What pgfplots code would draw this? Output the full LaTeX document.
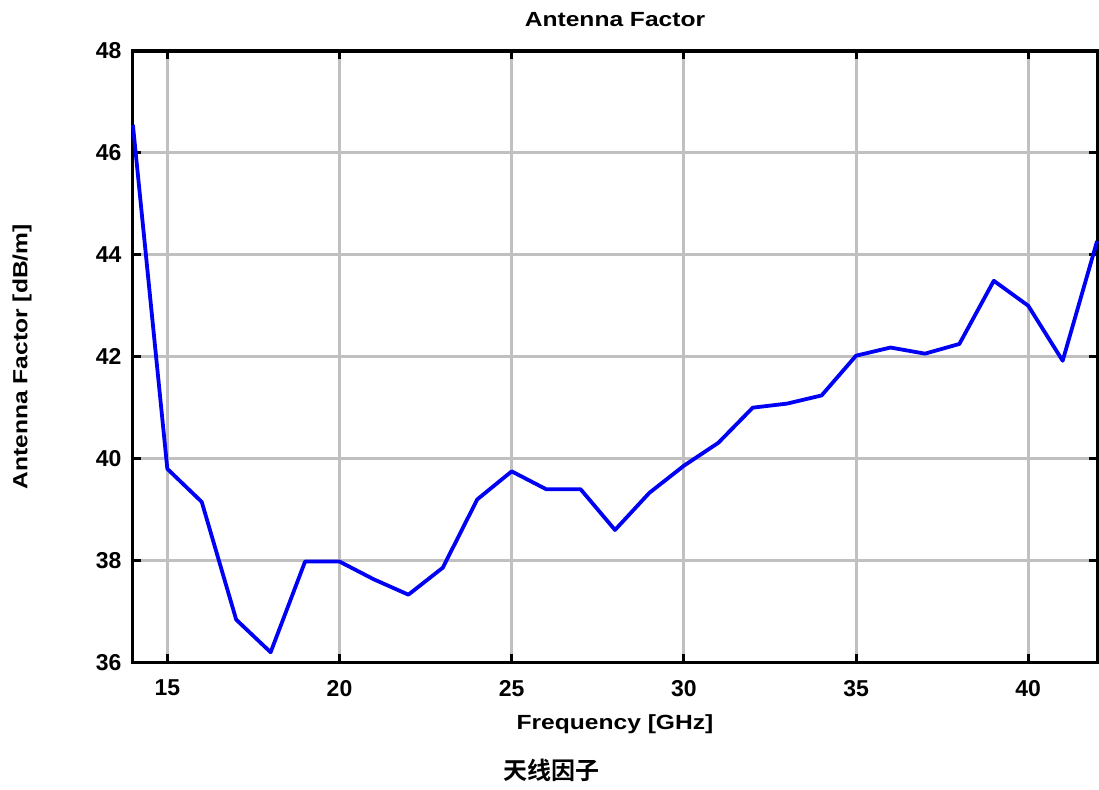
\documentclass[border=0pt]{standalone}
\usepackage{pgfplots}
\pgfplotsset{compat=1.18}
\usepackage{fontspec}
\setmainfont{Liberation Sans}[FakeStretch=1.2]
\newfontfamily\tickfont{Liberation Sans}
\newfontfamily\cjk{Noto Sans CJK SC}[BoldFont={* Bold}]

\definecolor{gridgray}{RGB}{192,192,192}
\definecolor{afblue}{RGB}{0,0,245}

\begin{document}
\begin{tikzpicture}
\begin{axis}[
    scale only axis,
    width=965pt, height=612pt,
    xmin=14, xmax=42,
    ymin=36, ymax=48,
    xtick={15,20,25,30,35,40},
    ytick={36,38,40,42,44,46,48},
    grid=major,
    major grid style={line width=3pt, gridgray},
    axis line style={line width=3.2pt, black},
    tick style={line width=3pt, black},
    tick align=inside,
    major tick length=8pt,
    /pgf/number format/assume math mode=true,
    tick label style={font=\tickfont\fontsize{23}{26}\selectfont\bfseries},
    xticklabel style={yshift=-14pt},
    yticklabel style={xshift=-8pt},
    title={Antenna Factor},
    every axis title/.style={at={(axis description cs:0.5,1.0392)}, anchor=base,
        font=\fontsize{20.5}{24}\selectfont\bfseries},
    xlabel={Frequency [GHz]},
    every axis x label/.style={at={(axis description cs:0.5,-0.1095)}, anchor=base,
        font=\fontsize{20.5}{24}\selectfont\bfseries},
    ylabel={Antenna Factor [dB/m]},
    every axis y label/.style={at={(axis description cs:-0.115,0.5)}, rotate=90, anchor=center,
        font=\fontsize{20.5}{24}\selectfont\bfseries},
    clip=false,
]
\addplot[afblue, line width=3.8pt, line join=round] coordinates {
    (14,46.55) (15,39.80) (16,39.15) (17,36.84) (18,36.20)
    (19,37.98) (20,37.98) (21,37.63) (22,37.33) (23,37.86)
    (24,39.20) (25,39.75) (26,39.40) (27,39.40) (28,38.60)
    (29,39.33) (30,39.86) (31,40.31) (32,41.00) (33,41.08)
    (34,41.24) (35,42.02) (36,42.18) (37,42.06) (38,42.25)
    (39,43.49) (40,43.00) (41,41.92) (42,44.27)
};
\node[font=\cjk\fontsize{24}{28}\selectfont\bfseries, anchor=base]
    at (axis description cs:0.434,-0.191) {天线因子};
\end{axis}
\path (current axis.south west) ++(-133pt,-127pt) rectangle ++(1099pt,790pt);
\end{tikzpicture}
\end{document}
